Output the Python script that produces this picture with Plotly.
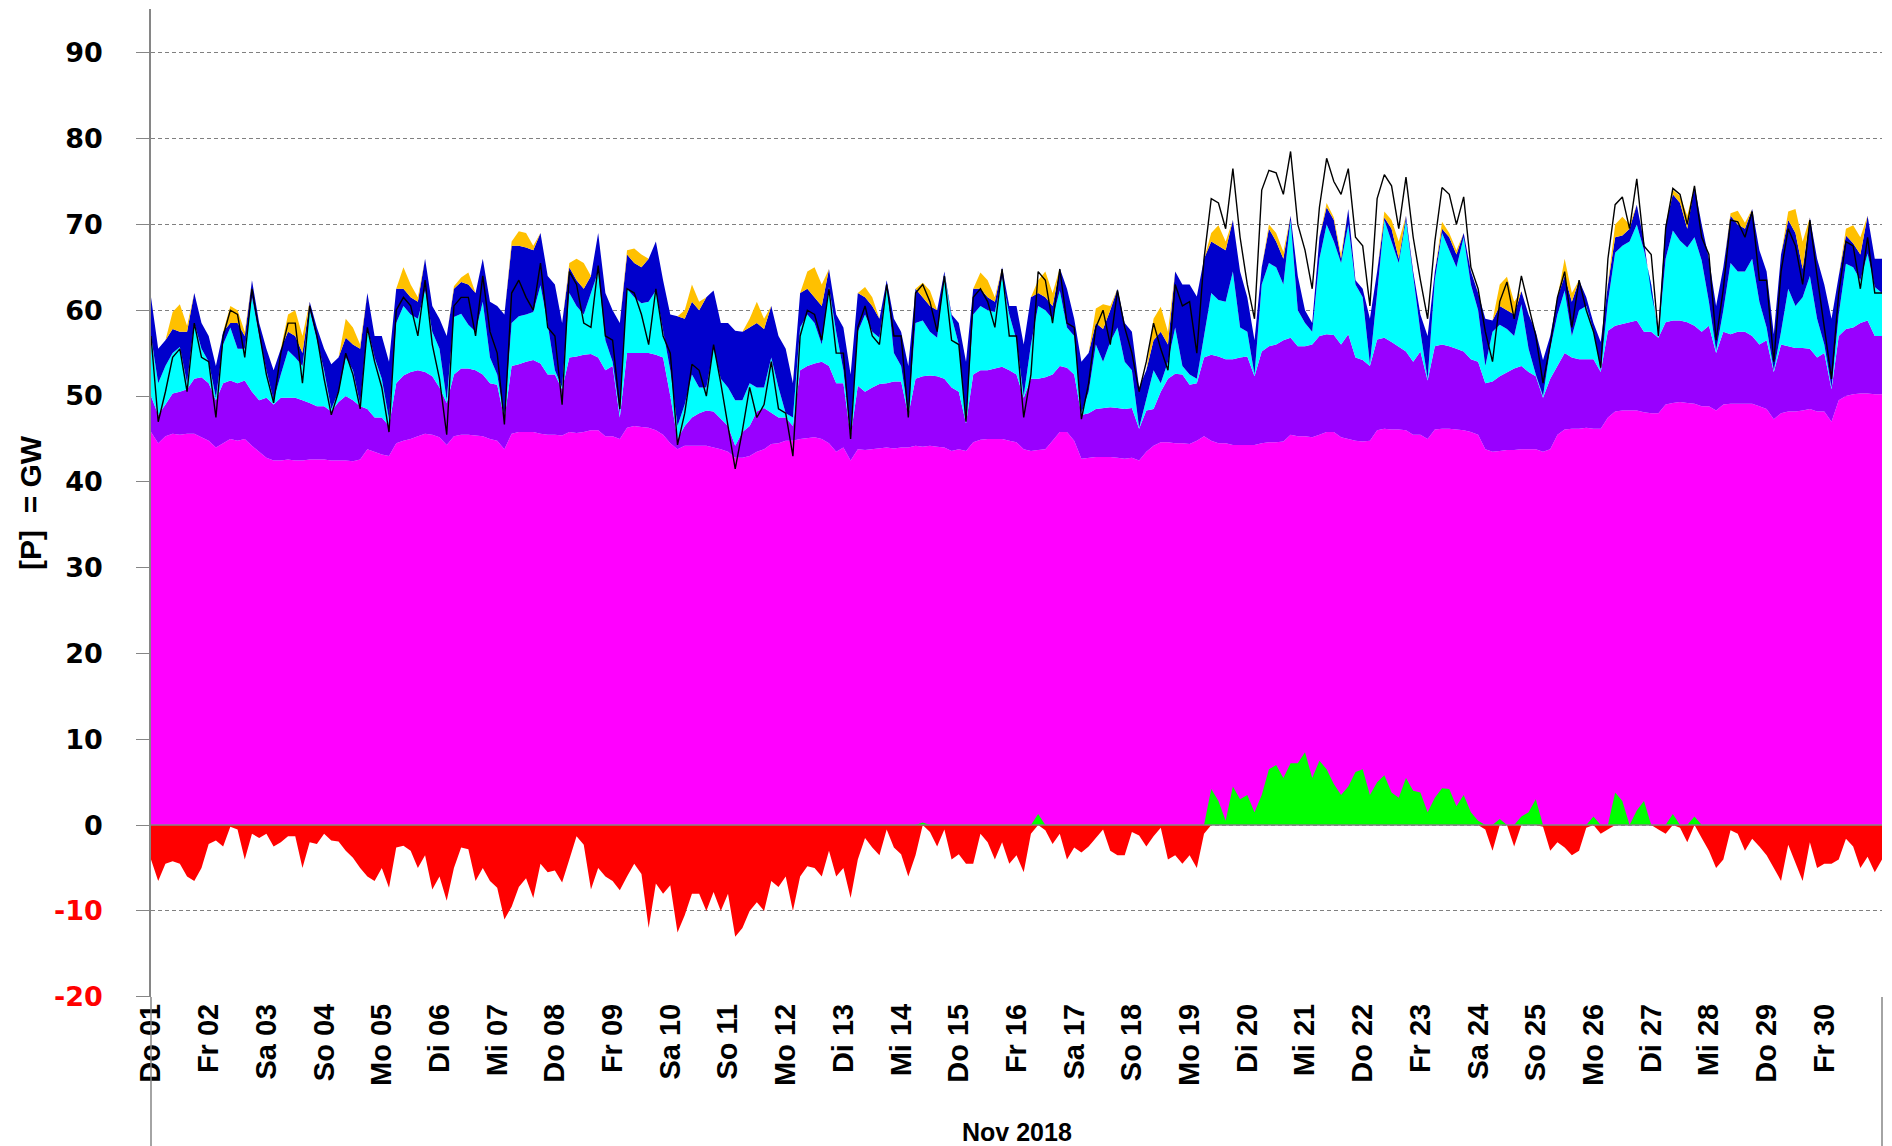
import numpy as np
import plotly.graph_objects as go

DAY_LABELS = ["Do 01", "Fr 02", "Sa 03", "So 04", "Mo 05", "Di 06", "Mi 07", "Do 08", "Fr 09", "Sa 10",
              "So 11", "Mo 12", "Di 13", "Mi 14", "Do 15", "Fr 16", "Sa 17", "So 18", "Mo 19", "Di 20",
              "Mi 21", "Do 22", "Fr 23", "Sa 24", "So 25", "Mo 26", "Di 27", "Mi 28", "Do 29", "Fr 30"]
HOURS = [0, 3, 6, 9, 12, 15, 18, 21]
MONTH_LABEL = "Nov 2018"
Y_TICKS = [-20, -10, 0, 10, 20, 30, 40, 50, 60, 70, 80, 90]

# upper edge of each stacked band, GW (3-hourly, last value = 01.12. 00:00)
MAGENTA_TOP = [
    45.8, 44.5, 45.3, 45.6, 45.5, 45.6, 45.6, 45.2,
    44.8, 44.0, 44.5, 45.0, 44.8, 45.0, 44.2, 43.5,
    42.8, 42.5, 42.5, 42.6, 42.5, 42.5, 42.6, 42.6,
    42.6, 42.5, 42.5, 42.5, 42.4, 42.6, 43.8, 43.5,
    43.2, 43.0, 44.5, 44.8, 45.0, 45.3, 45.6, 45.5,
    45.2, 44.3, 45.3, 45.5, 45.5, 45.4, 45.3, 45.0,
    44.8, 43.8, 45.6, 45.8, 45.8, 45.8, 45.6, 45.5,
    45.5, 45.4, 45.8, 45.7, 45.8, 46.0, 46.0, 45.3,
    45.3, 45.0, 46.3, 46.5, 46.4, 46.3, 46.0, 45.5,
    44.5, 43.8, 44.2, 44.2, 44.2, 44.2, 44.0, 43.8,
    43.5, 42.8, 42.8, 43.0, 43.5, 43.8, 44.4, 44.5,
    44.8, 44.8, 45.0, 45.1, 45.2, 45.0, 44.5, 43.5,
    44.0, 42.5, 43.8, 43.7, 43.8, 43.9, 44.0, 43.9,
    44.0, 44.0, 44.2, 44.1, 44.2, 44.1, 44.0, 43.6,
    43.8, 43.6, 44.6, 44.9, 45.0, 45.0, 45.0, 44.8,
    44.6, 43.8, 43.6, 43.7, 43.8, 44.8, 45.8, 45.8,
    44.8, 42.7, 42.8, 42.9, 42.9, 42.9, 42.8, 42.7,
    42.8, 42.5, 43.5, 44.2, 44.6, 44.6, 44.5, 44.5,
    44.4, 44.8, 45.3, 44.8, 44.5, 44.5, 44.3, 44.3,
    44.3, 44.3, 44.5, 44.6, 44.6, 44.7, 45.5, 45.3,
    45.3, 45.2, 45.5, 45.8, 45.8, 45.2, 45.0, 44.8,
    44.7, 44.8, 46.0, 46.2, 46.1, 46.1, 46.0, 45.5,
    45.5, 45.0, 46.1, 46.2, 46.2, 46.1, 46.0, 45.8,
    45.5, 43.8, 43.5, 43.6, 43.7, 43.7, 43.8, 43.8,
    43.8, 43.5, 43.8, 45.5, 46.1, 46.2, 46.2, 46.3,
    46.2, 46.2, 47.5, 48.2, 48.3, 48.3, 48.3, 48.1,
    48.0, 48.0, 49.0, 49.2, 49.3, 49.2, 49.1, 48.8,
    48.8, 48.3, 49.0, 49.1, 49.1, 49.1, 49.1, 48.8,
    48.5, 47.3, 48.0, 48.2, 48.2, 48.3, 48.5, 48.2,
    48.2, 47.0, 49.5, 50.0, 50.2, 50.3, 50.3, 50.2,
    50.2]

PURPLE_TOP = [
    50.0, 47.8, 49.0, 50.3, 50.5, 50.8, 52.0, 52.2,
    51.5, 49.5, 51.5, 51.8, 51.5, 51.8, 50.5, 49.5,
    49.8, 49.0, 49.8, 49.8, 49.8, 49.5, 49.2, 48.8,
    48.8, 48.2, 49.3, 50.0, 49.5, 48.8, 48.5, 47.5,
    47.5, 46.5, 51.5, 52.4, 52.8, 53.0, 52.8, 52.3,
    51.0, 49.2, 52.5, 53.2, 53.2, 53.0, 52.5, 51.5,
    51.3, 47.3, 53.5, 53.7, 54.0, 54.2, 53.8, 52.5,
    52.5, 50.8, 54.5, 54.6, 54.8, 54.9, 54.5, 53.0,
    53.5, 47.5, 55.0, 55.0, 55.0, 55.0, 54.8, 54.5,
    50.0, 45.0, 46.5, 47.5, 48.0, 48.3, 48.2, 47.3,
    46.5, 44.2, 45.8, 46.5, 48.2, 48.6, 48.0, 47.5,
    47.5, 46.5, 53.0, 53.5, 53.8, 54.0, 53.5, 51.5,
    51.5, 45.3, 51.2, 50.5, 51.0, 51.4, 51.5, 51.7,
    51.7, 47.8, 52.0, 52.3, 52.4, 52.3, 52.0, 51.0,
    50.5, 46.8, 52.5, 53.0, 53.0, 53.2, 53.4, 53.0,
    52.5, 49.8, 52.0, 52.0, 52.2, 52.5, 53.5, 53.3,
    52.5, 47.8, 48.0, 48.5, 48.6, 48.7, 48.6, 48.5,
    48.6, 46.2, 48.3, 48.5, 50.5, 52.0, 52.6, 52.5,
    51.3, 51.5, 54.5, 54.8, 54.6, 54.3, 54.3, 54.5,
    54.6, 52.3, 55.2, 55.8, 56.0, 56.5, 56.8, 55.8,
    55.8, 56.0, 57.0, 57.2, 57.1, 56.0, 57.2, 54.5,
    54.2, 53.5, 56.6, 56.8, 56.3, 55.7, 55.2, 54.0,
    55.2, 51.8, 55.8, 56.0, 55.8, 55.5, 55.2, 54.3,
    54.0, 51.5, 51.7, 52.3, 52.8, 53.2, 53.5, 52.8,
    52.3, 49.8, 52.0, 53.5, 55.0, 54.5, 54.3, 54.3,
    54.3, 52.8, 57.6, 58.2, 58.4, 58.6, 58.8, 57.5,
    57.5, 56.8, 58.6, 58.8, 58.8, 58.6, 58.2, 57.5,
    58.2, 55.0, 57.5, 57.2, 57.5, 57.5, 57.0, 56.0,
    56.5, 52.8, 56.0, 55.8, 55.6, 55.6, 55.5, 54.5,
    55.0, 50.8, 57.0, 57.8, 58.0, 58.5, 58.8, 57.0,
    57.0]

CYAN_TOP = [
    57.0, 51.5, 53.5, 55.0, 55.7, 51.5, 58.5, 55.5,
    54.0, 49.8, 56.0, 58.0, 55.5, 55.5, 61.5, 57.0,
    53.0, 49.5, 52.5, 55.3, 54.5, 53.5, 60.0, 56.5,
    53.0, 48.5, 50.5, 54.5, 53.0, 49.0, 58.0, 54.5,
    52.0, 47.3, 58.5, 60.5, 59.5, 59.0, 62.3, 57.5,
    55.5, 49.5, 59.2, 59.6, 58.3, 57.5, 61.0, 54.5,
    52.5, 47.5, 58.5, 59.3, 59.5, 59.8, 62.9, 58.4,
    53.0, 51.0, 62.0, 60.5, 59.5, 62.0, 64.5, 56.5,
    54.0, 48.0, 62.5, 61.5, 60.8, 61.0, 62.3, 57.6,
    53.0, 46.5, 49.0, 52.5, 51.0, 51.0, 55.5, 52.0,
    51.0, 49.5, 49.5, 51.5, 51.0, 51.0, 54.5, 51.0,
    48.0, 47.5, 58.0, 59.5, 58.5, 56.0, 62.7, 57.5,
    53.0, 45.5, 57.5, 59.5, 57.5, 56.8, 63.0, 55.0,
    53.5, 48.0, 58.5, 58.8, 57.5, 56.8, 64.2, 59.2,
    56.0, 47.0, 59.5, 60.5, 60.0, 59.8, 63.8, 59.5,
    56.5, 50.0, 56.0, 60.5, 60.0, 59.0, 62.3, 58.0,
    57.0, 48.0, 50.5, 56.0, 54.0, 56.3, 58.0, 54.0,
    53.0, 46.3, 49.5, 53.0, 51.5, 54.0, 58.0, 53.5,
    52.5, 52.0, 57.0, 62.0, 61.2, 61.0, 64.5, 58.0,
    57.5, 52.5, 63.0, 65.5, 65.0, 63.0, 70.5, 60.0,
    58.5, 57.5, 66.0, 70.0, 68.0, 65.5, 70.0, 63.0,
    61.5, 53.7, 62.0, 70.5, 68.0, 65.5, 70.5, 64.0,
    57.5, 52.0, 63.5, 69.0, 67.0, 65.0, 68.5, 63.0,
    60.0, 53.5, 57.5, 58.3, 57.8, 57.0, 60.7, 55.5,
    52.5, 50.0, 55.5, 59.5, 62.3, 57.0, 60.0, 60.5,
    57.6, 53.0, 61.0, 66.7, 67.5, 68.0, 70.0, 67.0,
    63.0, 57.0, 66.0, 69.3, 68.1, 67.3, 68.5, 65.8,
    61.0, 55.3, 60.0, 65.5, 64.5, 64.5, 66.0, 61.0,
    58.0, 53.0, 57.5, 62.5, 60.5, 61.5, 64.0, 59.0,
    56.0, 51.0, 59.5, 65.4, 65.0, 63.5, 66.6, 62.7,
    62.0]

BLUE_TOP = [
    61.5, 55.5, 56.5, 57.8, 57.5, 57.5, 62.0, 58.5,
    57.0, 53.5, 57.5, 58.5, 58.5, 57.0, 63.5, 58.5,
    55.5, 53.0, 55.5, 57.5, 57.0, 55.0, 61.0, 58.0,
    55.5, 53.7, 54.5, 56.8, 56.0, 55.5, 62.0, 57.0,
    57.0, 54.0, 62.5, 62.5, 61.5, 61.0, 66.0, 60.5,
    59.0, 57.0, 62.5, 63.3, 63.0, 62.0, 66.0, 61.0,
    60.5, 59.5, 67.5, 67.5, 67.3, 67.0, 69.0, 64.0,
    63.0, 58.5, 65.0, 63.5, 62.5, 64.0, 69.0, 62.0,
    60.0, 58.5, 66.5, 65.5, 65.0, 66.0, 68.0, 63.5,
    59.5, 59.3, 59.0, 61.0, 60.0, 61.5, 62.3, 58.5,
    58.5, 57.6, 57.5, 58.0, 58.5, 57.8, 60.5, 57.0,
    55.5, 51.5, 62.0, 62.5, 61.5, 60.5, 64.8, 59.5,
    58.0, 52.5, 62.0, 61.5, 60.5, 59.0, 63.5, 59.0,
    57.5, 53.5, 62.5, 61.5, 60.5, 60.0, 64.5, 59.5,
    58.5, 54.0, 62.5, 62.5, 61.5, 61.0, 65.0, 60.5,
    60.5, 56.0, 61.5, 62.0, 61.5, 60.5, 64.9, 62.5,
    59.0, 54.0, 55.0, 58.5, 57.8, 60.0, 62.5, 58.5,
    57.5, 51.0, 53.0, 56.5, 57.5, 56.0, 64.5, 63.0,
    63.0, 61.6, 66.0, 68.0, 67.5, 67.0, 70.5, 64.5,
    61.5, 56.5, 65.0, 69.5, 68.0, 66.0, 71.0, 64.0,
    60.0, 58.5, 68.5, 72.0, 70.5, 66.0, 71.8, 63.5,
    62.5, 59.0, 64.5, 70.8, 69.5, 66.0, 71.0, 64.5,
    59.5, 57.0, 64.5, 69.5, 68.5, 66.5, 69.0, 64.5,
    62.0, 59.0, 58.8, 60.5, 60.0, 59.5, 62.2, 59.5,
    57.5, 54.2, 57.0, 61.5, 64.0, 61.0, 63.5, 61.5,
    58.5, 56.3, 63.0, 68.5, 68.7, 69.5, 72.3, 68.0,
    62.0, 57.8, 70.0, 73.5, 72.5, 69.5, 74.5, 70.0,
    66.0, 60.5, 65.0, 71.0, 70.0, 69.5, 71.8, 67.0,
    64.5, 57.2, 66.5, 70.5, 69.0, 64.8, 70.8, 66.0,
    63.0, 59.0, 64.0, 68.7, 67.8, 66.5, 71.0, 66.0,
    66.0]

# thickness of the orange band on top of the dark blue band, GW
ORANGE = [
    0, 0, 0, 2.0, 3.2, 0.7, 0, 0,
    0, 0, 0, 2.0, 1.5, 0.5, 0, 0,
    0, 0, 0, 2.0, 3.0, 2.0, 0, 0,
    0, 0, 0, 2.2, 2.0, 0.5, 0, 0,
    0, 0, 0, 2.5, 1.5, 0.5, 0, 0,
    0, 0, 0.3, 0.5, 1.4, 0, 0, 0,
    0, 0, 0.5, 1.7, 1.7, 0.5, 0, 0,
    0, 0, 0.5, 2.5, 3.0, 0, 0, 0,
    0, 0, 0.5, 1.7, 1.5, 0, 0, 0,
    0, 0, 1.0, 2.0, 1.0, 0, 0, 0,
    0, 0, 0, 1.0, 2.5, 1.2, 0, 0,
    0, 0, 0, 2.0, 3.5, 2.5, 0, 0,
    0, 0, 0, 1.2, 1.0, 0, 0, 0,
    0, 0, 0, 1.7, 1.8, 0, 0, 0,
    0, 0, 0, 1.9, 2.0, 0.5, 0, 0,
    0, 0, 0, 1.5, 3.0, 1.5, 0, 0,
    0, 0, 0, 1.7, 2.9, 0.5, 0, 0,
    0, 0, 0, 2.5, 2.9, 1.5, 0, 0,
    0, 0, 0, 1.0, 2.4, 1.0, 0, 0,
    0, 0, 0, 0.5, 1.0, 0.8, 0, 0,
    0, 0, 0, 0.5, 0.3, 0.5, 0, 0,
    0, 0, 0, 0.7, 1.0, 2.0, 0, 0,
    0, 0, 0, 0.8, 0.5, 0.5, 0, 0,
    0, 0, 0, 2.5, 3.9, 1.5, 0, 0,
    0, 0, 0, 0, 2.0, 1.0, 0, 0,
    0, 0, 0, 1.5, 2.2, 0.5, 0, 0,
    0, 0, 0, 0.5, 0.8, 1.5, 0, 0,
    0, 0, 0, 0.3, 1.6, 0.7, 0, 0,
    0, 0, 0, 1.0, 2.8, 3.2, 0, 0,
    0, 0, 0, 0.8, 2.1, 2.0, 0, 0,
    0]

# net exchange, GW (positive = green, negative = red)
NET = [
    -4.0, -6.5, -4.5, -4.2, -4.5, -6.0, -6.5, -5.0,
    -2.2, -1.8, -2.5, -0.2, -0.5, -4.0, -1.0, -1.5,
    -1.0, -2.5, -2.0, -1.3, -1.3, -5.0, -2.0, -2.2,
    -1.0, -1.8, -1.9, -3.0, -3.8, -5.0, -6.0, -6.5,
    -5.0, -7.3, -2.6, -2.4, -3.0, -5.0, -3.5, -7.5,
    -6.0, -8.8, -5.0, -2.6, -2.8, -6.5, -5.0, -6.5,
    -7.3, -11.0, -9.5, -7.2, -6.2, -8.5, -4.5, -5.5,
    -5.3, -6.7, -4.0, -1.3, -2.3, -7.5, -5.0, -6.0,
    -6.5, -7.6, -6.0, -4.5, -5.7, -12.0, -6.8, -8.0,
    -7.0, -12.5, -10.5, -8.0, -8.0, -10.0, -7.8, -10.0,
    -8.0, -13.0, -12.0, -10.0, -9.0, -10.0, -6.5, -7.2,
    -6.0, -10.0, -6.0, -4.8, -5.0, -6.0, -3.0, -6.0,
    -5.0, -8.5, -4.0, -1.5, -2.6, -3.5, -0.5, -2.6,
    -3.4, -6.0, -3.5, 0.3, -0.8, -2.5, -0.5, -4.0,
    -3.4, -4.5, -4.5, -1.0, -2.0, -4.0, -2.0, -4.5,
    -3.5, -5.5, -1.0, 1.3, -0.6, -2.2, -1.0, -4.0,
    -2.6, -3.2, -2.5, -1.5, -0.5, -3.0, -3.5, -3.5,
    -0.8, -1.2, -2.5, -1.3, -0.3, -4.0, -3.5, -4.5,
    -3.5, -5.0, -1.0, 4.2, 2.8, 0.5, 4.5, 3.0,
    3.5, 1.5, 3.5, 6.5, 7.0, 5.5, 7.2, 7.2,
    8.5, 5.5, 7.5, 6.5, 4.8, 3.5, 4.5, 6.2,
    6.5, 3.5, 5.0, 5.8, 3.8, 3.2, 5.5, 4.0,
    3.8, 1.5, 3.2, 4.3, 4.2, 2.2, 3.5, 1.5,
    0.5, -0.5, -3.0, 0.7, 0.0, -2.5, 1.0, 1.5,
    3.0, -0.2, -3.0, -2.0, -2.6, -3.5, -3.0, -0.3,
    1.0, -1.0, -0.5, 3.8, 2.8, 0.0, 1.7, 2.8,
    0.0, -0.5, -1.0, 1.3, -0.3, -2.0, 1.0, -1.5,
    -3.0, -5.0, -4.0, -0.6, -1.0, -3.0, -1.6, -2.5,
    -3.5, -5.0, -6.5, -2.3, -4.5, -6.5, -2.0, -5.0,
    -4.5, -4.5, -4.0, -1.6, -2.5, -5.0, -3.7, -5.5,
    -4.0]

# load (black line), GW
LOAD = [
    57.0, 47.0, 50.5, 54.5, 55.5, 50.5, 58.5, 54.5,
    54.0, 47.5, 57.0, 60.0, 59.5, 54.5, 62.5, 57.5,
    52.5, 49.2, 55.0, 58.5, 58.5, 51.5, 60.5, 57.0,
    52.0, 47.8, 50.5, 55.0, 52.5, 48.5, 58.0, 54.0,
    51.0, 45.8, 60.0, 61.5, 60.5, 57.0, 63.5, 56.0,
    52.0, 45.5, 60.5, 61.5, 61.5, 57.0, 64.0, 57.5,
    55.0, 46.7, 62.0, 63.5, 61.5, 60.0, 65.5, 58.0,
    57.0, 49.0, 64.5, 63.0, 58.5, 58.0, 65.2, 57.0,
    56.5, 48.5, 62.5, 62.0, 59.5, 56.0, 62.5, 57.0,
    55.0, 44.3, 48.0, 53.7, 53.0, 50.0, 56.0, 51.5,
    46.5, 41.5, 46.0, 51.0, 47.5, 49.0, 54.0, 48.5,
    48.0, 43.0, 57.0, 60.0, 59.5, 56.5, 62.5, 55.0,
    55.0, 45.0, 58.0, 60.5, 57.0, 56.0, 63.0, 57.0,
    57.0, 47.5, 62.0, 63.0, 61.0, 57.5, 64.0, 56.5,
    56.0, 47.0, 61.5, 62.5, 61.0, 58.0, 64.8, 57.0,
    57.0, 47.5, 52.5, 64.5, 63.5, 58.5, 64.8, 58.5,
    58.0, 47.3, 51.5, 58.0, 60.0, 56.0, 62.3, 58.0,
    55.0, 50.5, 54.0, 58.5, 55.5, 53.0, 63.0, 60.5,
    61.0, 55.0, 66.0, 73.0, 72.5, 69.5, 76.5, 68.5,
    63.0, 59.0, 74.0, 76.3, 76.0, 73.5, 78.5, 70.0,
    67.0, 62.5, 72.0, 77.7, 75.0, 73.5, 76.5, 68.5,
    67.5, 60.5, 73.0, 75.8, 74.5, 69.5, 75.5, 68.5,
    63.5, 59.0, 68.0, 74.3, 73.5, 70.0, 73.2, 65.0,
    62.5, 57.5, 54.0, 61.0, 63.3, 59.0, 64.0, 60.5,
    57.0, 51.5, 56.0, 61.5, 64.5, 58.0, 63.5, 60.0,
    57.5, 53.3, 66.0, 72.3, 73.2, 69.5, 75.3, 67.5,
    66.5, 57.0, 69.5, 74.2, 73.5, 70.0, 74.5, 68.5,
    66.5, 56.5, 62.5, 70.5, 70.3, 68.5, 71.5, 63.5,
    63.5, 54.0, 64.5, 69.5, 67.5, 63.0, 70.5, 64.0,
    58.0, 52.0, 62.0, 68.0, 67.5, 62.5, 68.5, 62.0,
    62.0]

# ---- time axis in days since 01.11. 00:00 ----
x = [d + h / 24 for d in range(len(DAY_LABELS)) for h in HOURS] + [float(len(DAY_LABELS))]
blue = np.array(BLUE_TOP)
orange_top = blue + np.array(ORANGE)
net = np.array(NET)
net_pos = np.clip(net, 0, None)
net_neg = np.clip(net, None, 0)

fig = go.Figure()


def band(y, color, fill):
    fig.add_trace(go.Scatter(x=x, y=y, mode="lines", line=dict(width=0, color=color),
                             fill=fill, fillcolor=color, hoverinfo="skip", showlegend=False))


band(MAGENTA_TOP, "#FF00FF", "tozeroy")
band(PURPLE_TOP, "#9900FF", "tonexty")
band(CYAN_TOP, "#00FFFF", "tonexty")
band(BLUE_TOP, "#0000CC", "tonexty")
band(orange_top, "#FFC000", "tonexty")
band(net_pos, "#00FF00", "tozeroy")
band(net_neg, "#FF0000", "tozeroy")
fig.add_trace(go.Scatter(x=x, y=LOAD, mode="lines", line=dict(width=1.4, color="#000000"),
                         hoverinfo="skip", showlegend=False))

ytext = [f'<span style="color:#FF0000">{v}</span>' if v < 0 else str(v) for v in Y_TICKS]

W, H = 1892, 1146
L, R, T, B = 151, 10, 9, 149
plot_h = H - T - B
plot_w = W - L - R

fig.update_layout(
    width=W, height=H,
    margin=dict(l=L, r=R, t=T, b=B),
    paper_bgcolor="white", plot_bgcolor="white",
    showlegend=False,
    xaxis=dict(range=[0, 30], tickvals=list(range(len(DAY_LABELS))), ticktext=DAY_LABELS,
               tickangle=-90, showgrid=False, zeroline=False, showline=False, ticks="",
               tickfont=dict(family="Liberation Sans, Arial, sans-serif", size=29, color="black",
                             weight="bold")),
    yaxis=dict(range=[-20.03, 95.1], tickvals=Y_TICKS, ticktext=ytext,
               showgrid=True, gridcolor="#808080", gridwidth=1, griddash="4px,3px",
               zeroline=False, showline=True, linecolor="#868686", linewidth=1.5,
               ticks="outside", ticklen=13, tickcolor="#868686", tickwidth=1.2,
               ticklabelstandoff=28,
               tickfont=dict(family="DejaVu Sans, Verdana, sans-serif", size=27, color="black",
                             weight="bold")),
)

yb = -(H - T - plot_h) / plot_h  # bottom of the page in paper coords
fig.add_shape(type="line", xref="paper", yref="paper", x0=0, x1=0, y0=0, y1=yb,
              line=dict(color="#868686", width=1.5))
fig.add_shape(type="line", xref="paper", yref="paper", x0=1, x1=1, y0=0, y1=yb,
              line=dict(color="#868686", width=1.5))
fig.add_shape(type="line", xref="paper", yref="y", x0=0, x1=1, y0=0, y1=0,
              line=dict(color="#868686", width=1.5), layer="above")

fig.add_annotation(text=MONTH_LABEL, xref="paper", yref="paper", x=0.5,
                   y=(T + plot_h - 1132) / plot_h, xanchor="center", yanchor="middle",
                   showarrow=False,
                   font=dict(family="Liberation Sans, Arial, sans-serif", size=25, color="black",
                             weight="bold"))
fig.add_annotation(text="[P]  = GW", xref="paper", yref="paper", x=(30 - L) / plot_w, y=0.5,
                   xanchor="center", yanchor="middle", textangle=-90, showarrow=False,
                   font=dict(family="Liberation Sans, Arial, sans-serif", size=30, color="black",
                             weight="bold"))

fig.write_html("out.html", config={"displayModeBar": False},
               post_script="document.body.style.margin='0';document.body.style.overflow='hidden';")
